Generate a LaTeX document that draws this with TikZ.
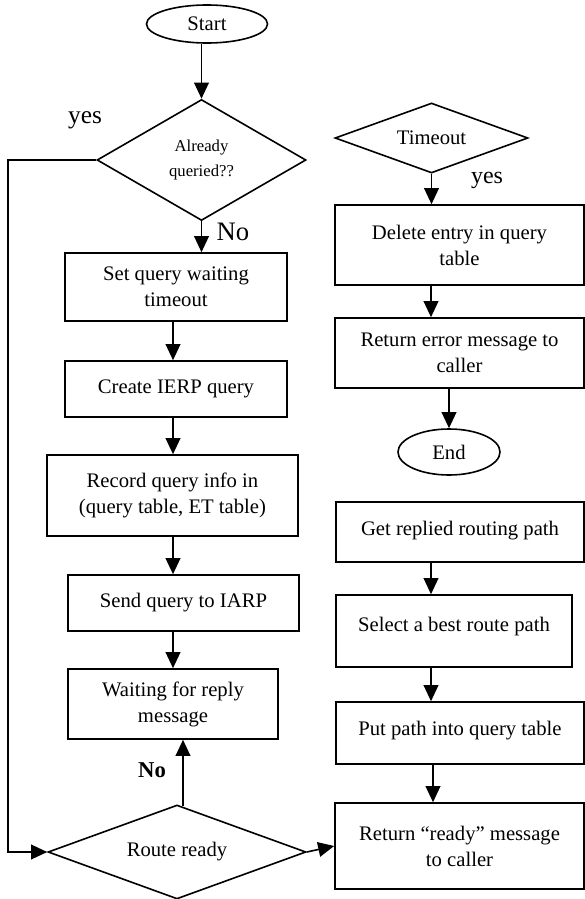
\documentclass[tikz,border=0pt]{standalone}
\usepackage{fontspec}
\setmainfont{Liberation Serif}
\usetikzlibrary{shapes.geometric,arrows.meta,calc}
\begin{document}
\begin{tikzpicture}[x=0.75pt,y=-0.75pt,
  every node/.style={inner sep=0pt, font=\fontsize{15.5}{19.5}\selectfont, align=center},
  box/.style={draw, line width=1.2pt, rectangle},
  term/.style={draw, line width=1.2pt, ellipse},
  dec/.style={draw, line width=1.2pt, diamond},
  flow/.style={line width=1.2pt, -{Triangle[width=11pt,length=12pt]}},
  lbl/.style={font=\fontsize{19}{22}\selectfont}
]
\useasboundingbox (0,0) rectangle (585,899);

% left column
\node[term, minimum width=90.75pt, minimum height=28.5pt] (start) at (207,24) {Start};
\node[dec, aspect=1.73, minimum width=156.75pt, minimum height=90.75pt,
      font=\fontsize{12.5}{19}\selectfont] (q1) at (201.5,160) {Already\\queried??};
\node[box, minimum width=166.5pt, minimum height=51pt] (set) at (176,287) {Set query waiting\\timeout};
\node[box, minimum width=166.5pt, minimum height=42pt] (create) at (176,389) {Create IERP query};
\node[box, minimum width=188.25pt, minimum height=60.75pt] (record) at (172.5,495.5) {Record query info in\\(query table, ET table)};
\node[box, minimum width=173.25pt, minimum height=42pt] (send) at (183.5,603) {Send query to IARP};
\node[box, minimum width=157.5pt, minimum height=52.5pt] (wait) at (173,704) {Waiting for reply\\message};
\node[dec, aspect=2.74, minimum width=193.5pt, minimum height=70.5pt] (route) at (177,852) {Route ready};

% right column
\node[dec, aspect=2.76, minimum width=144.75pt, minimum height=52.5pt] (tmo) at (431.5,138) {Timeout};
\node[box, minimum width=186.75pt, minimum height=60pt] (del) at (459.5,245) {Delete entry in query\\table};
\node[box, minimum width=186.75pt, minimum height=52.5pt] (err) at (459.5,353) {Return error message to\\caller};
\node[term, minimum width=76.5pt, minimum height=34.5pt] (end) at (449,452) {End};
\node[box, minimum width=186pt, minimum height=45pt] (get) at (460,532) {\raisebox{5.25pt}{Get replied routing path}};
\node[box, minimum width=177pt, minimum height=54pt] (sel) at (454,631) {\raisebox{9.75pt}{Select a best route path}};
\node[box, minimum width=186pt, minimum height=46.5pt] (put) at (460,733) {\raisebox{7.5pt}{Put path into query table}};
\node[box, minimum width=186.75pt, minimum height=64.5pt] (ready) at (459.5,846) {Return “ready” message\\to caller};

% helper coordinates
\coordinate (lt) at (8,0);
\coordinate (rc) at (431,0);
\coordinate (lc) at (173,0);

% labels
\node[lbl] (yes1) at (85,120) {yes};
\node[font=\fontsize{20}{22}\selectfont] (no1) at (233,232) {No};
\node[font=\fontsize{18}{20}\selectfont] (yes2) at (487,180) {yes};
\node[font=\fontsize{17}{20}\selectfont\bfseries] (no2) at (152,770) {No};

% connectors left
\draw[flow] (q1.north |- start.south) -- (q1.north);
\draw[flow] (q1.south) -- (q1.south |- set.north);
\draw[flow] (set.south -| lc) -- (create.north -| lc);
\draw[flow] (create.south -| lc) -- (record.north -| lc);
\draw[flow] (record.south -| lc) -- (send.north -| lc);
\draw[flow] (send.south -| lc) -- (wait.north -| lc);
\draw[flow] ($(route.north)+(6,2)$) -- ($(route.north |- wait.south)+(6,0)$);
\draw[flow] (q1.west) -- (q1.west -| lt) -- (route.west -| lt) -- (route.west);
\draw[flow] (route.east) -- (ready.west);

% connectors right
\draw[flow] (tmo.south) -- (tmo.south |- del.north);
\draw[flow] (del.south -| rc) -- (err.north -| rc);
\draw[flow] (end.north |- err.south) -- (end.north);
\draw[flow] (get.south -| rc) -- (sel.north -| rc);
\draw[flow] (sel.south -| rc) -- (put.north -| rc);
\draw[flow] ($(put.south -| rc)+(2,0)$) -- ($(ready.north -| rc)+(2,0)$);
\end{tikzpicture}
\end{document}
